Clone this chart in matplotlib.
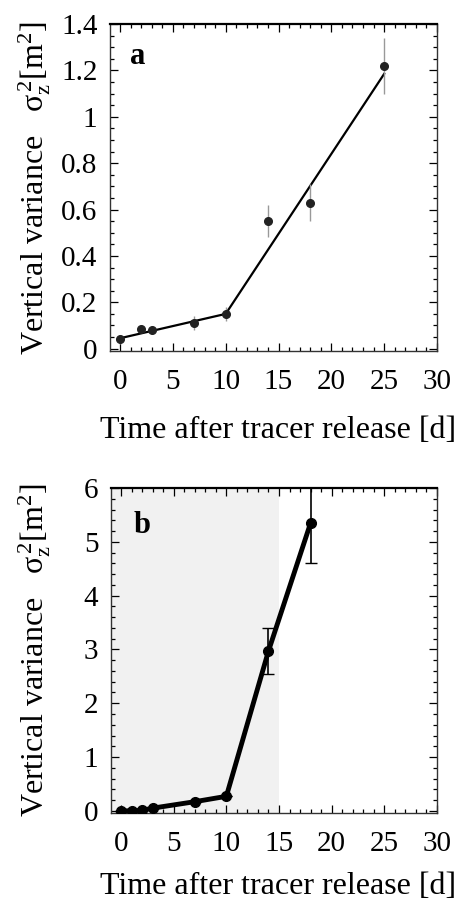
import matplotlib
matplotlib.use("Agg")
import matplotlib.pyplot as plt
from matplotlib.ticker import MultipleLocator

plt.rcParams['font.family'] = ['Liberation Serif', 'DejaVu Serif']
plt.rcParams['mathtext.fontset'] = 'custom'
plt.rcParams['mathtext.rm'] = 'Liberation Serif'
plt.rcParams['mathtext.it'] = 'Liberation Serif'

# Panel a: measured vertical variance and piecewise fit
days_a = [0, 2, 3, 7, 10, 14, 18, 25]
var_a = [0.04, 0.085, 0.08, 0.11, 0.15, 0.55, 0.63, 1.22]
err_a = [0.02, 0.01, 0.01, 0.03, 0.03, 0.07, 0.08, 0.12]
fit_days_a = [0, 10, 25]
fit_var_a = [0.045, 0.15, 1.185]

# Panel b: vertical variance
days_b = [0, 1, 2, 3, 7, 10, 14, 18]
var_b = [0.0, 0.0, 0.01, 0.05, 0.17, 0.27, 2.97, 5.35]
err_b = [0, 0, 0, 0, 0, 0, 0.42, 0.75]

xticks = [0, 5, 10, 15, 20, 25, 30]
yticks_a = [0, 0.2, 0.4, 0.6, 0.8, 1, 1.2, 1.4]
yticklabels_a = ['0', '0.2', '0.4', '0.6', '0.8', '1', '1.2', '1.4']
yticks_b = [0, 1, 2, 3, 4, 5, 6]

fig = plt.figure(figsize=(4.57, 9.0), dpi=100)
W, H = 457, 900
ax_a = fig.add_axes([110 / W, 1 - 351 / H, 327 / W, 327 / H])
ax_b = fig.add_axes([111 / W, 1 - 813 / H, 326 / W, 325 / H])

ylabel = r'Vertical variance   σ$_{\mathrm{z}}^{\,2}$[m$^{2}$]'
xlabel = 'Time after tracer release [d]'

def style(ax, yminor):
    ax.set_xlim(-0.95, 30)
    ax.set_xticks(xticks)
    ax.xaxis.set_minor_locator(MultipleLocator(1))
    ax.yaxis.set_minor_locator(MultipleLocator(yminor))
    ax.tick_params(which='both', direction='in', top=True, right=True,
                   labelsize=21, width=0.9)
    ax.tick_params(axis='x', pad=13)
    ax.tick_params(axis='y', pad=9)
    ax.tick_params(which='major', length=6)
    ax.tick_params(which='minor', length=3)
    for s in ax.spines.values():
        s.set_linewidth(1.0)
        s.set_color('#333333')
    ax.spines['top'].set_linewidth(1.6)
    ax.spines['top'].set_color('black')

# --- panel a ---
ax_a.plot(fit_days_a, fit_var_a, color='black', lw=1.6, zorder=3)
ax_a.errorbar(days_a, var_a, yerr=err_a, fmt='o', color='#222222', ms=5.5,
              ecolor='#999999', elinewidth=1.0, capsize=0, zorder=4)
ax_a.set_ylim(-0.01, 1.4)
ax_a.set_yticks(yticks_a)
ax_a.set_yticklabels(yticklabels_a)
style(ax_a, 0.05)
ax_a.text(0.06, 0.90, 'a', transform=ax_a.transAxes, fontsize=22,
          fontweight='bold', ha='left', va='center')

# --- panel b ---
ax_b.axvspan(-0.95, 15, color='#f1f1f1', zorder=0, lw=0)
ax_b.errorbar(days_b, var_b, yerr=err_b, fmt='-o', color='black', ms=7,
              lw=3.5, ecolor='black', elinewidth=1.2, capsize=4, zorder=4)
ax_b.set_ylim(-0.04, 6.0)
ax_b.set_yticks(yticks_b)
style(ax_b, 0.2)
ax_b.text(0.07, 0.885, 'b', transform=ax_b.transAxes, fontsize=22,
          fontweight='bold', ha='left', va='center')

for ylab_y, xlab_y in [(188, 431), (650, 887)]:
    fig.text(35 / W, 1 - ylab_y / H, ylabel, rotation=90, fontsize=23,
             ha='center', va='center')
    fig.text(278 / W, 1 - xlab_y / H, xlabel, fontsize=23,
             ha='center', va='center')

fig.savefig('out.png', dpi=100)
